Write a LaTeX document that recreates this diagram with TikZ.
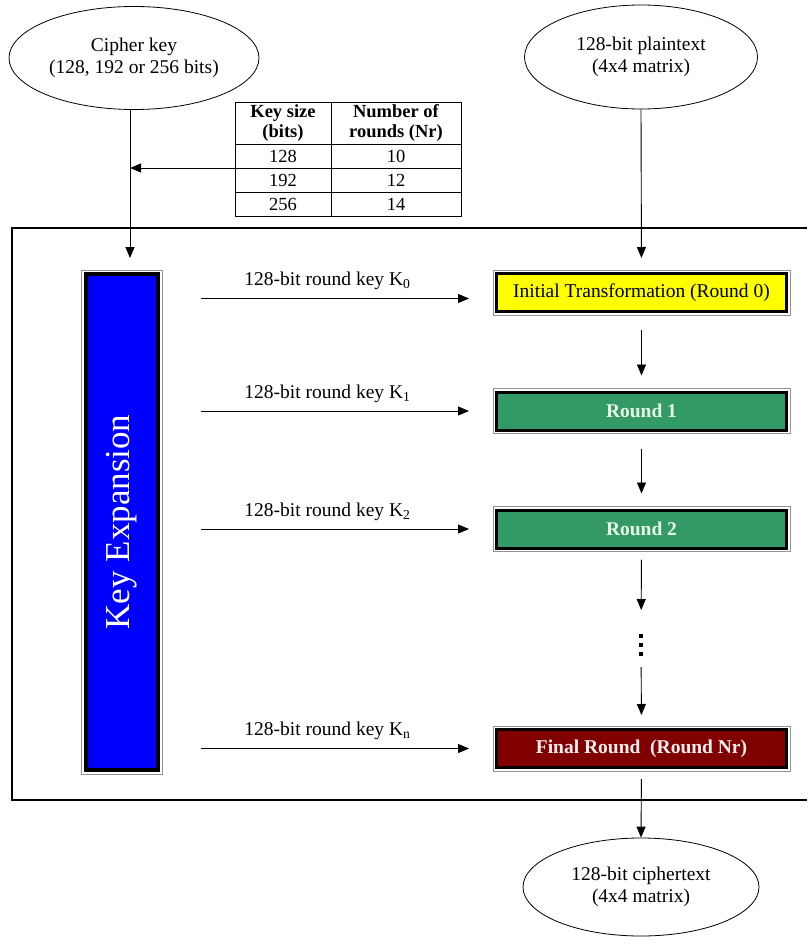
\documentclass[tikz,border=0pt]{standalone}
\usepackage{fontspec}
\setmainfont{Liberation Serif}
\usetikzlibrary{shapes.geometric,arrows.meta}
\definecolor{rgreen}{HTML}{339966}
\definecolor{rred}{HTML}{800000}
\definecolor{rblue}{HTML}{0000FF}
\definecolor{ryellow}{HTML}{FFFF00}
\definecolor{rtxtg}{HTML}{E6F7E6}
\definecolor{rtxtr}{HTML}{FCEFEF}
\begin{document}
\begin{tikzpicture}[x=1pt,y=-1pt,
  txt/.style={font=\fontsize{19.5}{22.5}\selectfont},
  oval/.style={draw, ellipse, line width=0.8pt, inner sep=0pt, align=center, txt},
  cell/.style={draw, line width=0.8pt, inner sep=0pt, align=center, font=\fontsize{18.5}{20}\selectfont},
  roundbox/.style={draw=black, line width=3pt, minimum width=290pt, minimum height=38pt, inner sep=0pt, txt},
  arr/.style={line width=0.9pt, -{Triangle[length=11pt,width=9pt]}},
  keyarr/.style={arr, shorten <=41pt, shorten >=26pt},
  outerline/.style={draw=gray!85, line width=1pt}
]
\useasboundingbox (0,0) rectangle (807,945);
\fill[white] (0,0) rectangle (807,945);

% frame
\draw[line width=1.1pt] (807,228) -- (12,228) -- (12,800) -- (807,800);

% ellipses
\node[oval, minimum width=250pt, minimum height=103pt] (ck) at (134,58) {Cipher key\\(128, 192 or 256 bits)};
\node[oval, minimum width=233pt, minimum height=104pt] (pt) at (641,57) {128-bit plaintext\\(4x4 matrix)};
\node[oval, minimum width=236pt, minimum height=98pt] (ct) at (641,887) {128-bit ciphertext\\(4x4 matrix)};

% table
\node[cell, minimum width=96pt, minimum height=42pt, font=\fontsize{18.5}{20}\selectfont\bfseries] (h1) at (283,123) {Key size\\(bits)};
\node[cell, minimum width=130pt, minimum height=42pt, font=\fontsize{18.5}{20}\selectfont\bfseries] (h2) at (396,123) {Number of\\rounds (Nr)};
\node[cell, minimum width=96pt, minimum height=24pt] (a1) at (283,156) {128};
\node[cell, minimum width=130pt, minimum height=24pt] (a2) at (396,156) {10};
\node[cell, minimum width=96pt, minimum height=24pt] (b1) at (283,180) {192};
\node[cell, minimum width=130pt, minimum height=24pt] (b2) at (396,180) {12};
\node[cell, minimum width=96pt, minimum height=24pt] (c1) at (283,204) {256};
\node[cell, minimum width=130pt, minimum height=24pt] (c2) at (396,204) {14};

% key expansion
\node[draw=black, line width=4pt, fill=rblue, minimum width=72.5pt, minimum height=496pt, inner sep=0pt] (ke) at (121.75,522) {};
\node[rotate=90, text=white, font=\fontsize{35}{38}\selectfont] (ket) at (ke.center) {Key Expansion};
\draw[outerline] ([shift={(-2,-2)}]ke.north west) rectangle ([shift={(2,2)}]ke.south east);

% round boxes
\node[roundbox, fill=ryellow] (r0) at (641.5,292.5) {Initial Transformation (Round 0)};
\node[roundbox, fill=rgreen, text=rtxtg, font=\fontsize{19.5}{22.5}\selectfont\bfseries] (r1) at (641.5,411) {Round 1};
\node[roundbox, fill=rgreen, text=rtxtg, font=\fontsize{19.5}{22.5}\selectfont\bfseries] (r2) at (641.5,529) {Round 2};
\node[roundbox, fill=rred, text=rtxtr, font=\fontsize{19.5}{22.5}\selectfont\bfseries] (rn) at (641.5,748.5) {Final Round~~(Round Nr)};
\foreach \n in {r0,r1,r2,rn}{
  \draw[outerline] ([shift={(-2,-2)}]\n.north west) rectangle ([shift={(2,2)}]\n.south east);
}

% dots
\coordinate (dots) at (641,645);
\foreach \dy in {-9,0,9}{
  \fill ([yshift=-\dy pt]dots) ++(-1.6,-1.6) rectangle ++(3.2,3.2);
}

% inputs
\coordinate (kin) at (130,258);
\draw[arr] (ck.south -| kin) -- (kin);
\draw[arr] (a1.west |- 0,168) -- (kin |- 0,168);
\draw[arr, shorten >=14pt] (pt.south) -- (r0.north);

% round chain
\draw[arr, shorten <=17pt, shorten >=15pt] (r0.south) -- (r1.north);
\draw[arr, shorten <=17pt, shorten >=15pt] (r1.south) -- (r2.north);
\draw[arr, shorten <=10pt, shorten >=35pt] (r2.south) -- (dots);
\draw[arr, shorten <=22pt, shorten >=13pt] (dots) -- (rn.north);
\draw[arr, shorten <=10pt] (rn.south) -- (ct.north);

% round keys
\draw[keyarr] ([yshift=-6pt]ke.east |- r0.west) -- node[above=5pt, txt]{128-bit round key K\textsubscript{0}} ([yshift=-6pt]r0.west);
\draw[keyarr] (ke.east |- r1.west) -- node[above=5pt, txt]{128-bit round key K\textsubscript{1}} (r1.west);
\draw[keyarr] (ke.east |- r2.west) -- node[above=5pt, txt]{128-bit round key K\textsubscript{2}} (r2.west);
\draw[keyarr] (ke.east |- rn.west) -- node[above=5pt, txt]{128-bit round key K\textsubscript{n}} (rn.west);
\end{tikzpicture}
\end{document}
